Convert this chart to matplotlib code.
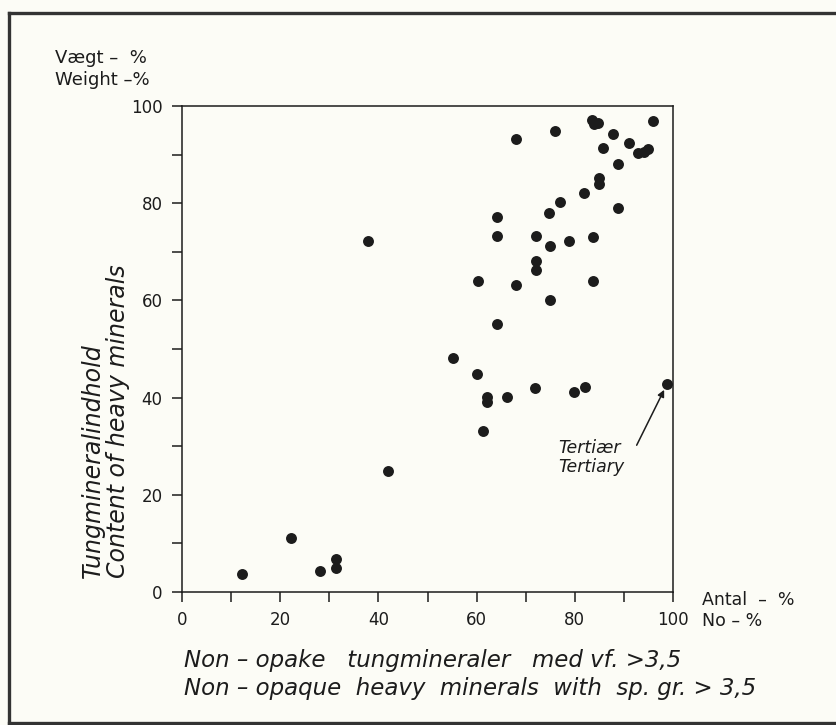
import numpy as np
import matplotlib.pyplot as plt
from matplotlib.lines import Line2D
from matplotlib.ticker import MultipleLocator

# values
antal = [12.2, 22.2, 28.1, 31.3, 31.3, 37.9, 42.0, 55.1, 60.0, 60.2,
         61.4, 62.1, 62.1, 64.1, 64.1, 64.2, 66.1, 68.0, 68.0, 71.8,
         72.0, 72.0, 72.0, 74.8, 74.9, 74.9, 76.0, 76.9, 78.9, 79.8,
         81.9, 82.1, 83.6, 84.8, 83.9, 83.8, 83.8, 84.9, 84.9, 85.8,
         87.8, 88.9, 88.9, 91.1, 92.9, 94.0, 95.0, 96.0, 98.8]
vaegt = [3.8, 11.1, 4.3, 6.8, 5.0, 72.2, 25.0, 48.1, 44.8, 64.0,
         33.2, 40.2, 39.0, 77.2, 73.2, 55.1, 40.2, 93.2, 63.2, 42.0,
         73.2, 68.1, 66.2, 78.0, 71.2, 60.1, 94.9, 80.3, 72.2, 41.2,
         82.1, 42.2, 97.1, 96.4, 96.2, 73.0, 64.0, 85.2, 83.9, 91.4,
         94.2, 88.1, 79.0, 92.3, 90.3, 90.6, 91.2, 97.0, 42.9]
tertiary = (98.8, 42.9)

W, H = 836, 725
bg = '#fcfcf6'
ink = '#1c1c1c'

fig = plt.figure(figsize=(W/100, H/100), dpi=100, facecolor=bg)

def fx(px):
    return px / W

def fy(py):
    return 1 - py / H

ax = fig.add_axes([fx(182), fy(592), fx(673) - fx(182), fy(106) - fy(592)])
ax.set_facecolor(bg)
ax.scatter(antal, vaegt, s=62, color=ink, zorder=3, linewidths=0)

ax.set_xlim(0, 100)
ax.set_ylim(0, 100)
ax.xaxis.set_major_locator(MultipleLocator(20))
ax.xaxis.set_minor_locator(MultipleLocator(10))
ax.yaxis.set_major_locator(MultipleLocator(20))
ax.yaxis.set_minor_locator(MultipleLocator(10))
ax.tick_params(which='both', direction='out', length=7, width=1.1, color=ink,
               labelsize=12, labelcolor=ink, pad=7)
for sp in ax.spines.values():
    sp.set_linewidth(1.1)
    sp.set_color(ink)

# arrow + label for the Tertiary sample
ax.annotate('', xy=(tertiary[0] - 0.6, tertiary[1] - 1.3), xytext=(92.6, 30.2),
            arrowprops=dict(arrowstyle='-|>', color=ink, lw=1.1,
                            mutation_scale=10, shrinkA=0, shrinkB=0))
ax.text(76.6, 29.6, 'Tertiær', fontsize=12.5, style='italic', color=ink,
        va='center', ha='left')
ax.text(76.6, 25.7, 'Tertiary', fontsize=12.5, style='italic', color=ink,
        va='center', ha='left')

# axis titles
fig.text(fx(55), fy(58), 'Vægt –  %', fontsize=13, color=ink, va='center')
fig.text(fx(55), fy(80), 'Weight –%', fontsize=13, color=ink, va='center')
fig.text(fx(702), fy(600), 'Antal  –  %', fontsize=12.5, color=ink, va='center')
fig.text(fx(702), fy(621), 'No – %', fontsize=12.5, color=ink, va='center')

fig.text(fx(184), fy(660), 'Non – opake   tungmineraler   med vf. >3,5',
         fontsize=16.5, style='italic', color=ink, va='center')
fig.text(fx(184), fy(689), 'Non – opaque  heavy  minerals  with  sp. gr. > 3,5',
         fontsize=16.5, style='italic', color=ink, va='center')

fig.text(fx(93), fy(578), 'Tungmineralindhold', fontsize=17, style='italic',
         color=ink, rotation=90, ha='center', va='bottom')
fig.text(fx(118), fy(578), 'Content of heavy minerals', fontsize=17,
         style='italic', color=ink, rotation=90, ha='center', va='bottom')

# outer frame of the plate
for (x0, y0, x1, y1) in [(9, 13, 836, 13), (9, 13, 9, 723), (9, 723, 836, 723)]:
    fig.add_artist(Line2D([fx(x0), fx(x1)], [fy(y0), fy(y1)], color='#333333',
                          lw=2.4, transform=fig.transFigure))

fig.savefig('out.png', dpi=100, facecolor=bg)
